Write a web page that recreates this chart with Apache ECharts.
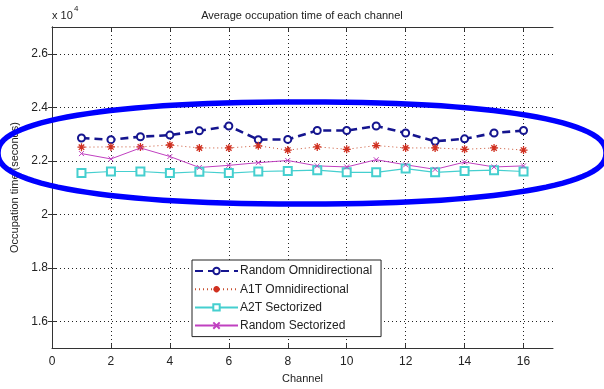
<!DOCTYPE html>
<html>
<head>
<meta charset="utf-8">
<script src="https://cdn.jsdelivr.net/npm/echarts@6/dist/echarts.min.js"></script>
<style>
  html, body { margin: 0; padding: 0; background: #fff; }
  #chart { width: 604px; height: 389px; }
</style>
</head>
<body>
<div id="chart"></div>
<script>
// values in units of x10^4 seconds
const channels = [1, 2, 3, 4, 5, 6, 7, 8, 9, 10, 11, 12, 13, 14, 15, 16];
const randomOmni = [2.285, 2.279, 2.290, 2.296, 2.312, 2.330, 2.279, 2.280, 2.313, 2.313, 2.330, 2.304, 2.273, 2.282, 2.304, 2.313];
const a1tOmni = [2.251, 2.252, 2.252, 2.259, 2.248, 2.248, 2.256, 2.240, 2.252, 2.243, 2.257, 2.248, 2.248, 2.243, 2.248, 2.240];
const a2tSect = [2.154, 2.160, 2.160, 2.154, 2.159, 2.154, 2.160, 2.162, 2.165, 2.157, 2.157, 2.171, 2.157, 2.162, 2.165, 2.160];
const randomSect = [2.227, 2.207, 2.248, 2.216, 2.175, 2.183, 2.193, 2.201, 2.181, 2.177, 2.204, 2.185, 2.168, 2.195, 2.177, 2.181];
const xTicks = [0, 2, 4, 6, 8, 10, 12, 14, 16];
const yTicks = [1.6, 1.8, 2.0, 2.2, 2.4, 2.6];

const font = '"Liberation Sans", Arial, sans-serif';
const pairs = ys => channels.map((c, i) => [c, ys[i]]);

// hand-drawn highlight ring (superellipse)
const ring = [];
for (let k = 0; k < 120; k++) {
  const t = k / 120 * Math.PI * 2;
  const c = Math.cos(t), s = Math.sin(t), n = 2.3;
  ring.push([302 + 304 * Math.sign(c) * Math.pow(Math.abs(c), 2 / n),
             153 + 51 * Math.sign(s) * Math.pow(Math.abs(s), 2 / n)]);
}

const myChart = echarts.init(document.getElementById('chart'));
const axisCommon = {
  axisLine: { show: true, lineStyle: { color: '#333', width: 1 } },
  axisTick: { show: true, inside: true, length: 4, lineStyle: { color: '#333' } }
};
myChart.setOption({
  animation: false,
  textStyle: { fontFamily: font, color: '#222' },
  title: {
    text: 'Average occupation time of each channel',
    left: 'center', top: 5,
    textStyle: { fontSize: 11, fontWeight: 'normal', color: '#222', fontFamily: font }
  },
  grid: { left: 52, right: 51, top: 27, bottom: 36, containLabel: false },
  legend: {
    orient: 'vertical', left: 192, top: 260,
    padding: [4, 9, 4, 2],
    itemWidth: 43, itemHeight: 8, itemGap: 4.2,
    backgroundColor: '#fff', borderColor: '#222', borderWidth: 1, borderRadius: 0,
    textStyle: { fontSize: 12, lineHeight: 14, color: '#222', fontFamily: font, padding: [0, 0, 0, -3] },
    data: ['Random Omnidirectional', 'A1T Omnidirectional', 'A2T Sectorized', 'Random Sectorized']
  },
  xAxis: [
    Object.assign({
      type: 'value', min: 0, max: 17, position: 'bottom',
      name: 'Channel', nameLocation: 'middle', nameGap: 22,
      nameTextStyle: { fontSize: 11, color: '#222', fontFamily: font },
      axisLabel: { customValues: xTicks, margin: 8, fontSize: 12, color: '#222', fontFamily: font },
      splitLine: { show: true, lineStyle: { color: '#222', type: [1, 3], width: 1 } }
    }, axisCommon, { axisTick: Object.assign({}, axisCommon.axisTick, { customValues: xTicks }) }),
    Object.assign({
      type: 'value', min: 0, max: 17, position: 'top',
      axisLabel: { show: false }, splitLine: { show: false }
    }, axisCommon, { axisTick: Object.assign({}, axisCommon.axisTick, { customValues: xTicks }) })
  ],
  yAxis: [
    Object.assign({
      type: 'value', min: 1.5, max: 2.7, position: 'left',
      name: 'Occupation time (seconds)', nameLocation: 'middle', nameGap: 30,
      nameTextStyle: { fontSize: 11, color: '#222', fontFamily: font },
      axisLabel: {
        customValues: yTicks, margin: 4, fontSize: 12, color: '#222', fontFamily: font,
        formatter: v => String(+(+v).toFixed(1))
      },
      splitLine: { show: true, lineStyle: { color: '#222', type: [1, 3], width: 1 } }
    }, axisCommon, { axisTick: Object.assign({}, axisCommon.axisTick, { customValues: yTicks }) }),
    Object.assign({
      type: 'value', min: 1.5, max: 2.7, position: 'right',
      axisLabel: { show: false }, splitLine: { show: false }
    }, axisCommon, { axisTick: Object.assign({}, axisCommon.axisTick, { customValues: yTicks }) })
  ],
  graphic: [
    { type: 'text', left: 52, top: 10, style: { text: 'x 10', fontSize: 11, fill: '#222', fontFamily: font } },
    { type: 'text', left: 74, top: 5, style: { text: '4', fontSize: 8, fill: '#222', fontFamily: font } },
    { type: 'polygon', z: 100, shape: { points: ring },
      style: { fill: 'none', stroke: '#0000ff', lineWidth: 5.5 } }
  ],
  series: [
    {
      name: 'Random Omnidirectional', type: 'line', data: pairs(randomOmni),
      symbol: 'emptyCircle', symbolSize: 7,
      itemStyle: { color: '#15158f', borderColor: '#15158f', borderWidth: 1.6 },
      lineStyle: { color: '#15158f', width: 2.6, type: [8, 5] }
    },
    {
      name: 'A1T Omnidirectional', type: 'line', data: pairs(a1tOmni),
      symbol: 'path://M5,0L5,10M0,5L10,5M1.6,1.6L8.4,8.4M8.4,1.6L1.6,8.4', symbolSize: 8,
      itemStyle: { color: '#d03020', borderColor: '#d03020', borderWidth: 1.3 },
      lineStyle: { color: '#c85030', width: 1, type: [1, 3] }
    },
    {
      name: 'A2T Sectorized', type: 'line', data: pairs(a2tSect),
      symbol: 'emptyRect', symbolSize: 8,
      itemStyle: { color: '#45cfcf', borderColor: '#45cfcf', borderWidth: 1.1 },
      lineStyle: { color: '#45cfcf', width: 1.2 }
    },
    {
      name: 'Random Sectorized', type: 'line', data: pairs(randomSect),
      symbol: 'path://M0,0L10,10M10,0L0,10', symbolSize: 5,
      itemStyle: { color: '#c040c0', borderColor: '#c040c0', borderWidth: 1 },
      lineStyle: { color: '#c040c0', width: 1 }
    }
  ]
});
</script>
</body>
</html>
